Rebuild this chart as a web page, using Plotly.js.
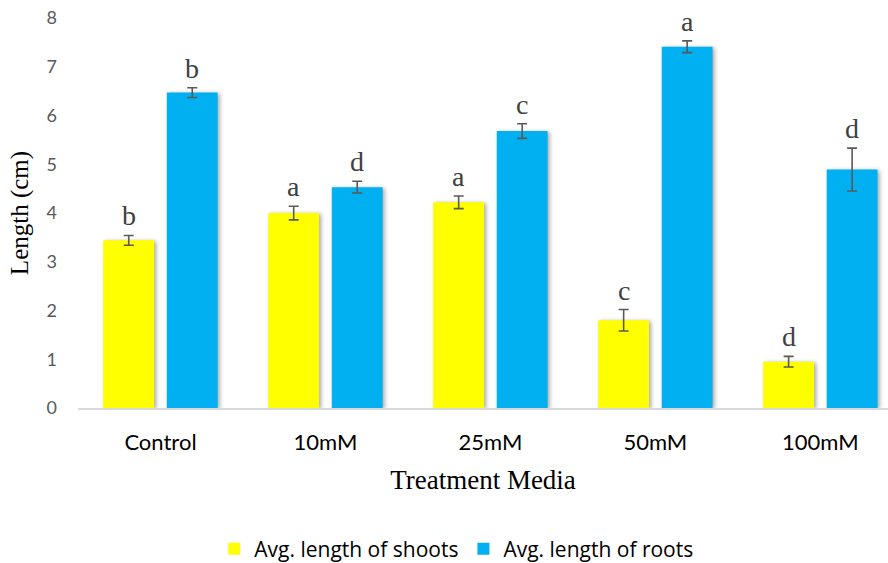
<!DOCTYPE html>
<html>
<head>
<meta charset="utf-8">
<script src="https://cdn.plot.ly/plotly-3.0.1.min.js"></script>
<style>
  html, body { margin: 0; padding: 0; background: #fff; }
  #chart { width: 888px; height: 563px; }
  .trace.bars .point path { filter: drop-shadow(2px 1px 2px rgba(0,0,0,0.35)); }
</style>
</head>
<body>
<div id="chart"></div>
<script>
// Treatment groups
const categories = ["Control", "10mM", "25mM", "50mM", "100mM"];

// Mean lengths (cm) with standard errors
const shootLength = [3.44, 4.00, 4.22, 1.80, 0.95];
const shootError  = [0.10, 0.14, 0.13, 0.22, 0.11];
const rootLength  = [6.47, 4.53, 5.68, 7.41, 4.89];
const rootError   = [0.10, 0.12, 0.15, 0.12, 0.44];

// Significance letters shown above each bar
const shootLetters = ["b", "a", "a", "c", "d"];
const rootLetters  = ["b", "d", "c", "a", "d"];

const errStyle = (arr) => ({
  type: "data", array: arr, visible: true,
  color: "#595959", thickness: 1.6, width: 5
});

const traces = [
  {
    type: "bar", name: "Avg. length of shoots",
    x: categories, y: shootLength,
    marker: { color: "#FFFF00" },
    error_y: errStyle(shootError),
    hoverinfo: "skip"
  },
  {
    type: "bar", name: "Avg. length of roots",
    x: categories, y: rootLength,
    marker: { color: "#00B0F0" },
    error_y: errStyle(rootError),
    hoverinfo: "skip"
  }
];

// Letters sit just above each error bar, offset to their bar within the group
const offset = 0.1924;
const letterFont = { family: "Liberation Serif, serif", size: 28, color: "#404040" };
const annotations = [];
categories.forEach((c, i) => {
  annotations.push({
    x: i - offset, y: shootLength[i] + shootError[i],
    xref: "x", yref: "y", text: shootLetters[i], showarrow: false,
    yanchor: "bottom", yshift: 2, font: letterFont
  });
  annotations.push({
    x: i + offset, y: rootLength[i] + rootError[i],
    xref: "x", yref: "y", text: rootLetters[i], showarrow: false,
    yanchor: "bottom", yshift: 2, font: letterFont
  });
});

const layout = {
  width: 888, height: 563,
  margin: { l: 78, r: 0, t: 18, b: 155, pad: 0, autoexpand: false },
  paper_bgcolor: "#ffffff", plot_bgcolor: "#ffffff",
  barmode: "group", bargap: 0.23, bargroupgap: 0.2,
  showlegend: true,
  legend: {
    orientation: "h", x: 0.467, xanchor: "center", y: -0.362, yanchor: "middle",
    font: { family: "Open Sans, sans-serif", size: 21, color: "#000000" },
    itemwidth: 30, tracegroupgap: 0
  },
  xaxis: {
    type: "category", range: [-0.5, 4.41], automargin: false,
    showline: true, linecolor: "#d9d9d9", linewidth: 2,
    showgrid: false, zeroline: false, ticks: "",
    ticklabelstandoff: 14,
    tickfont: { family: "Lato, sans-serif", size: 22, color: "#000000" },
    title: {
      text: "Treatment Media", standoff: 16,
      font: { family: "Liberation Serif, serif", size: 27, color: "#000000" }
    }
  },
  yaxis: {
    range: [0, 8], dtick: 1, tick0: 0, automargin: false,
    showline: false, showgrid: false, zeroline: false, ticks: "",
    ticklabelstandoff: 20,
    tickfont: { family: "Lato, sans-serif", size: 18, color: "#595959" },
    title: {
      text: "Length (cm)", standoff: 10,
      font: { family: "Liberation Serif, serif", size: 25, color: "#000000" }
    }
  },
  annotations: annotations
};

Plotly.newPlot("chart", traces, layout, { displayModeBar: false, staticPlot: true });
</script>
</body>
</html>
